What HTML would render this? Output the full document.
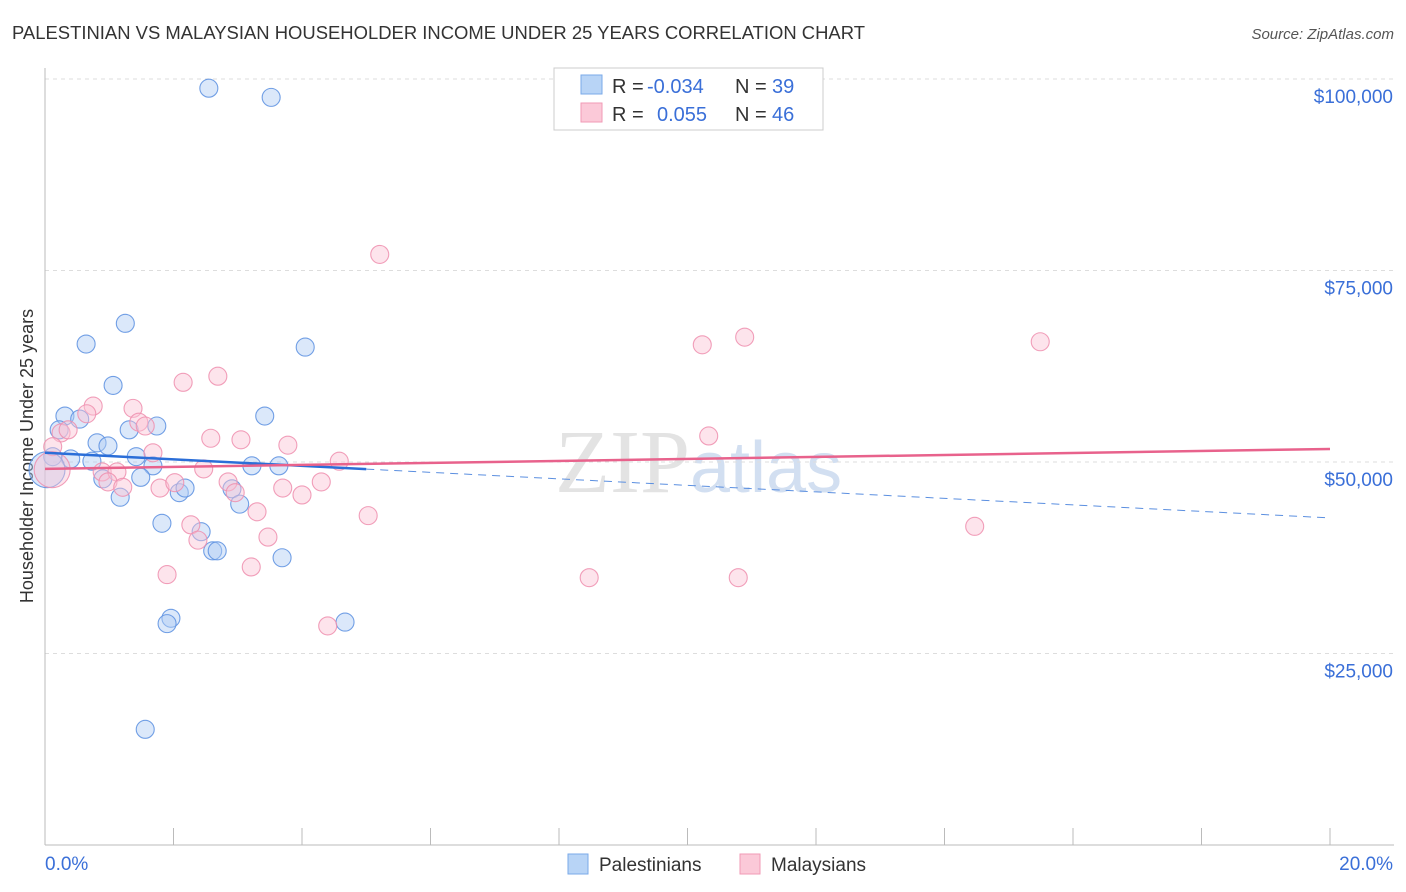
<!DOCTYPE html>
<html><head><meta charset="utf-8">
<style>
body{margin:0;background:#fff;font-family:"Liberation Sans",sans-serif;}
svg{display:block}
</style></head>
<body>
<svg id="chart" width="1406" height="892" xmlns="http://www.w3.org/2000/svg">
<text x="12" y="39" font-size="18" fill="#333" font-family="Liberation Sans" textLength="853" lengthAdjust="spacingAndGlyphs">PALESTINIAN VS MALAYSIAN HOUSEHOLDER INCOME UNDER 25 YEARS CORRELATION CHART</text>
<text x="1394" y="39" font-size="15" fill="#555" text-anchor="end" font-style="italic">Source: ZipAtlas.com</text>
<text x="555" y="492" font-size="90" fill="#ddd" font-family="Liberation Serif" opacity="0.8">ZIP<tspan fill="#c8d8ee" font-family="Liberation Sans" font-size="72">atlas</tspan></text>
<text transform="translate(33,456) rotate(-90)" font-size="18" fill="#333" text-anchor="middle">Householder Income Under 25 years</text>
<g id="grid"></g><g id="axes"></g><g id="marks"></g>
<g>
<rect x="554" y="68" width="269" height="62" fill="#fff" stroke="#ccc"/>
<rect x="581" y="75" width="21" height="19" fill="#b8d4f6" stroke="#7aaae8"/>
<rect x="581" y="103" width="21" height="19" fill="#fbc9d8" stroke="#f09ab6"/>
<text x="612" y="93" font-size="20" fill="#333">R =</text>
<text x="647" y="93" font-size="20" fill="#3a6fd8">-0.034</text>
<text x="735" y="93" font-size="20" fill="#333">N =</text>
<text x="772" y="93" font-size="20" fill="#3a6fd8">39</text>
<text x="612" y="121" font-size="20" fill="#333">R =</text>
<text x="657" y="121" font-size="20" fill="#3a6fd8">0.055</text>
<text x="735" y="121" font-size="20" fill="#333">N =</text>
<text x="772" y="121" font-size="20" fill="#3a6fd8">46</text>
</g>
<g>
<rect x="568" y="854" width="20" height="20" fill="#b8d4f6" stroke="#7aaae8"/>
<text x="599" y="871" font-size="19" fill="#333">Palestinians</text>
<rect x="740" y="854" width="20" height="20" fill="#fbc9d8" stroke="#f09ab6"/>
<text x="771" y="871" font-size="19" fill="#333">Malaysians</text>
</g>
</svg>
<script>
const blueX=[2.55,3.52,1.25,0.64,4.05,1.06,0.31,0.22,0.54,1.31,1.74,3.42,0.81,0.98,0.12,0.40,0.73,1.42,1.68,0.90,1.49,1.17,3.22,3.64,2.09,2.18,2.91,3.03,1.82,2.43,2.61,2.68,3.69,1.96,1.90,4.67,1.56,0.0];
const blueY=[98.8,97.6,68.1,65.4,65.0,60.0,56.0,54.2,55.6,54.2,54.7,56.0,52.5,52.1,50.7,50.4,50.1,50.7,49.5,47.8,48.0,45.4,49.5,49.5,46.0,46.6,46.5,44.5,42.0,40.9,38.4,38.4,37.5,29.6,28.9,29.1,15.1,49.0];
const pinkX=[5.21,10.23,10.89,15.49,2.15,2.69,0.75,0.65,1.37,1.46,1.56,0.25,0.36,0.12,2.58,3.05,3.78,10.33,1.68,4.58,2.47,0.89,1.12,0.98,1.21,2.85,2.96,1.79,2.02,3.70,4.00,4.30,3.30,5.03,2.27,2.38,3.47,14.47,3.21,1.90,8.47,10.79,4.40,0.08];
const pinkY=[77.1,65.3,66.3,65.7,60.4,61.2,57.3,56.3,57.0,55.2,54.7,53.8,54.2,52.0,53.1,52.9,52.2,53.4,51.2,50.1,49.1,48.7,48.7,47.4,46.7,47.4,46.0,46.6,47.3,46.6,45.7,47.4,43.5,43.0,41.8,39.8,40.2,41.6,36.3,35.3,34.9,34.9,28.6,49.0];
const blueTrend=[51.2,42.7]; const pinkTrend=[49.1,51.7];
const yTicks=[25,50,75,100]; const yTickLabels=["$25,000","$50,000","$75,000","$100,000"];
const xTickLabels=["0.0%","20.0%"];
const NS="http://www.w3.org/2000/svg";
const sx=v=>45+v*64.25, sy=v=>462-(v-50)*7.66;
function mk(tag,attrs,parent){const e=document.createElementNS(NS,tag);for(const k in attrs)e.setAttribute(k,attrs[k]);parent.appendChild(e);return e;}
const grid=document.getElementById('grid'),axes=document.getElementById('axes'),marks=document.getElementById('marks');
yTicks.forEach((t,i)=>{
 const l=mk('line',{x1:45,x2:1394,y1:sy(t),y2:sy(t),stroke:'#ddd','stroke-dasharray':'4,4'},grid);
 
 
 const tx=mk('text',{x:1393,y:sy(t)+24,'font-size':19,fill:'#3a6fd8','text-anchor':'end'},axes);
 tx.textContent=yTickLabels[i];
 
 
});
mk('line',{x1:45,x2:45,y1:68,y2:845,stroke:'#bbb'},axes);
mk('line',{x1:45,x2:1394,y1:845,y2:845,stroke:'#bbb'},axes);
for(let i=0;i<=10;i++){const t=mk('line',{x1:sx(i*2),x2:sx(i*2),y1:828,y2:845,stroke:'#bbb'},axes);
 
 }
const xl0=mk('text',{x:45,y:870,'font-size':19,fill:'#3a6fd8'},axes);xl0.textContent=xTickLabels[0];


const xl1=mk('text',{x:1393,y:870,'font-size':19,fill:'#3a6fd8','text-anchor':'end'},axes);xl1.textContent=xTickLabels[1];


function pts(xs,ys,fill,stroke,name){xs.forEach((x,i)=>{
 const big=(x<0.1);
 const c=mk('circle',{cx:big?sx(x)+2:sx(x),cy:sy(ys[i]),r:big?18:9,fill:fill,'fill-opacity':0.45,stroke:stroke,'stroke-width':1.1,'stroke-opacity':0.85},marks);
 
 });}
pts(blueX,blueY,'#b0cdf3','#5b8fe0','palestinian-point');
pts(pinkX,pinkY,'#fbc3d4','#ee8eae','malaysian-point');
const bAt=x=>blueTrend[0]+(blueTrend[1]-blueTrend[0])*x/20;
const l1=mk('line',{x1:sx(0),y1:sy(bAt(0)),x2:sx(5),y2:sy(bAt(5)),stroke:'#2b6ed8','stroke-width':2.5},marks);


const l2=mk('line',{x1:sx(5),y1:sy(bAt(5)),x2:sx(20),y2:sy(bAt(20)),stroke:'#5b8fe0','stroke-width':1,'stroke-dasharray':'8,6'},marks);


const l3=mk('line',{x1:sx(0),y1:sy(pinkTrend[0]),x2:sx(20),y2:sy(pinkTrend[1]),stroke:'#e8628c','stroke-width':2.5},marks);


</script>
</body></html>
